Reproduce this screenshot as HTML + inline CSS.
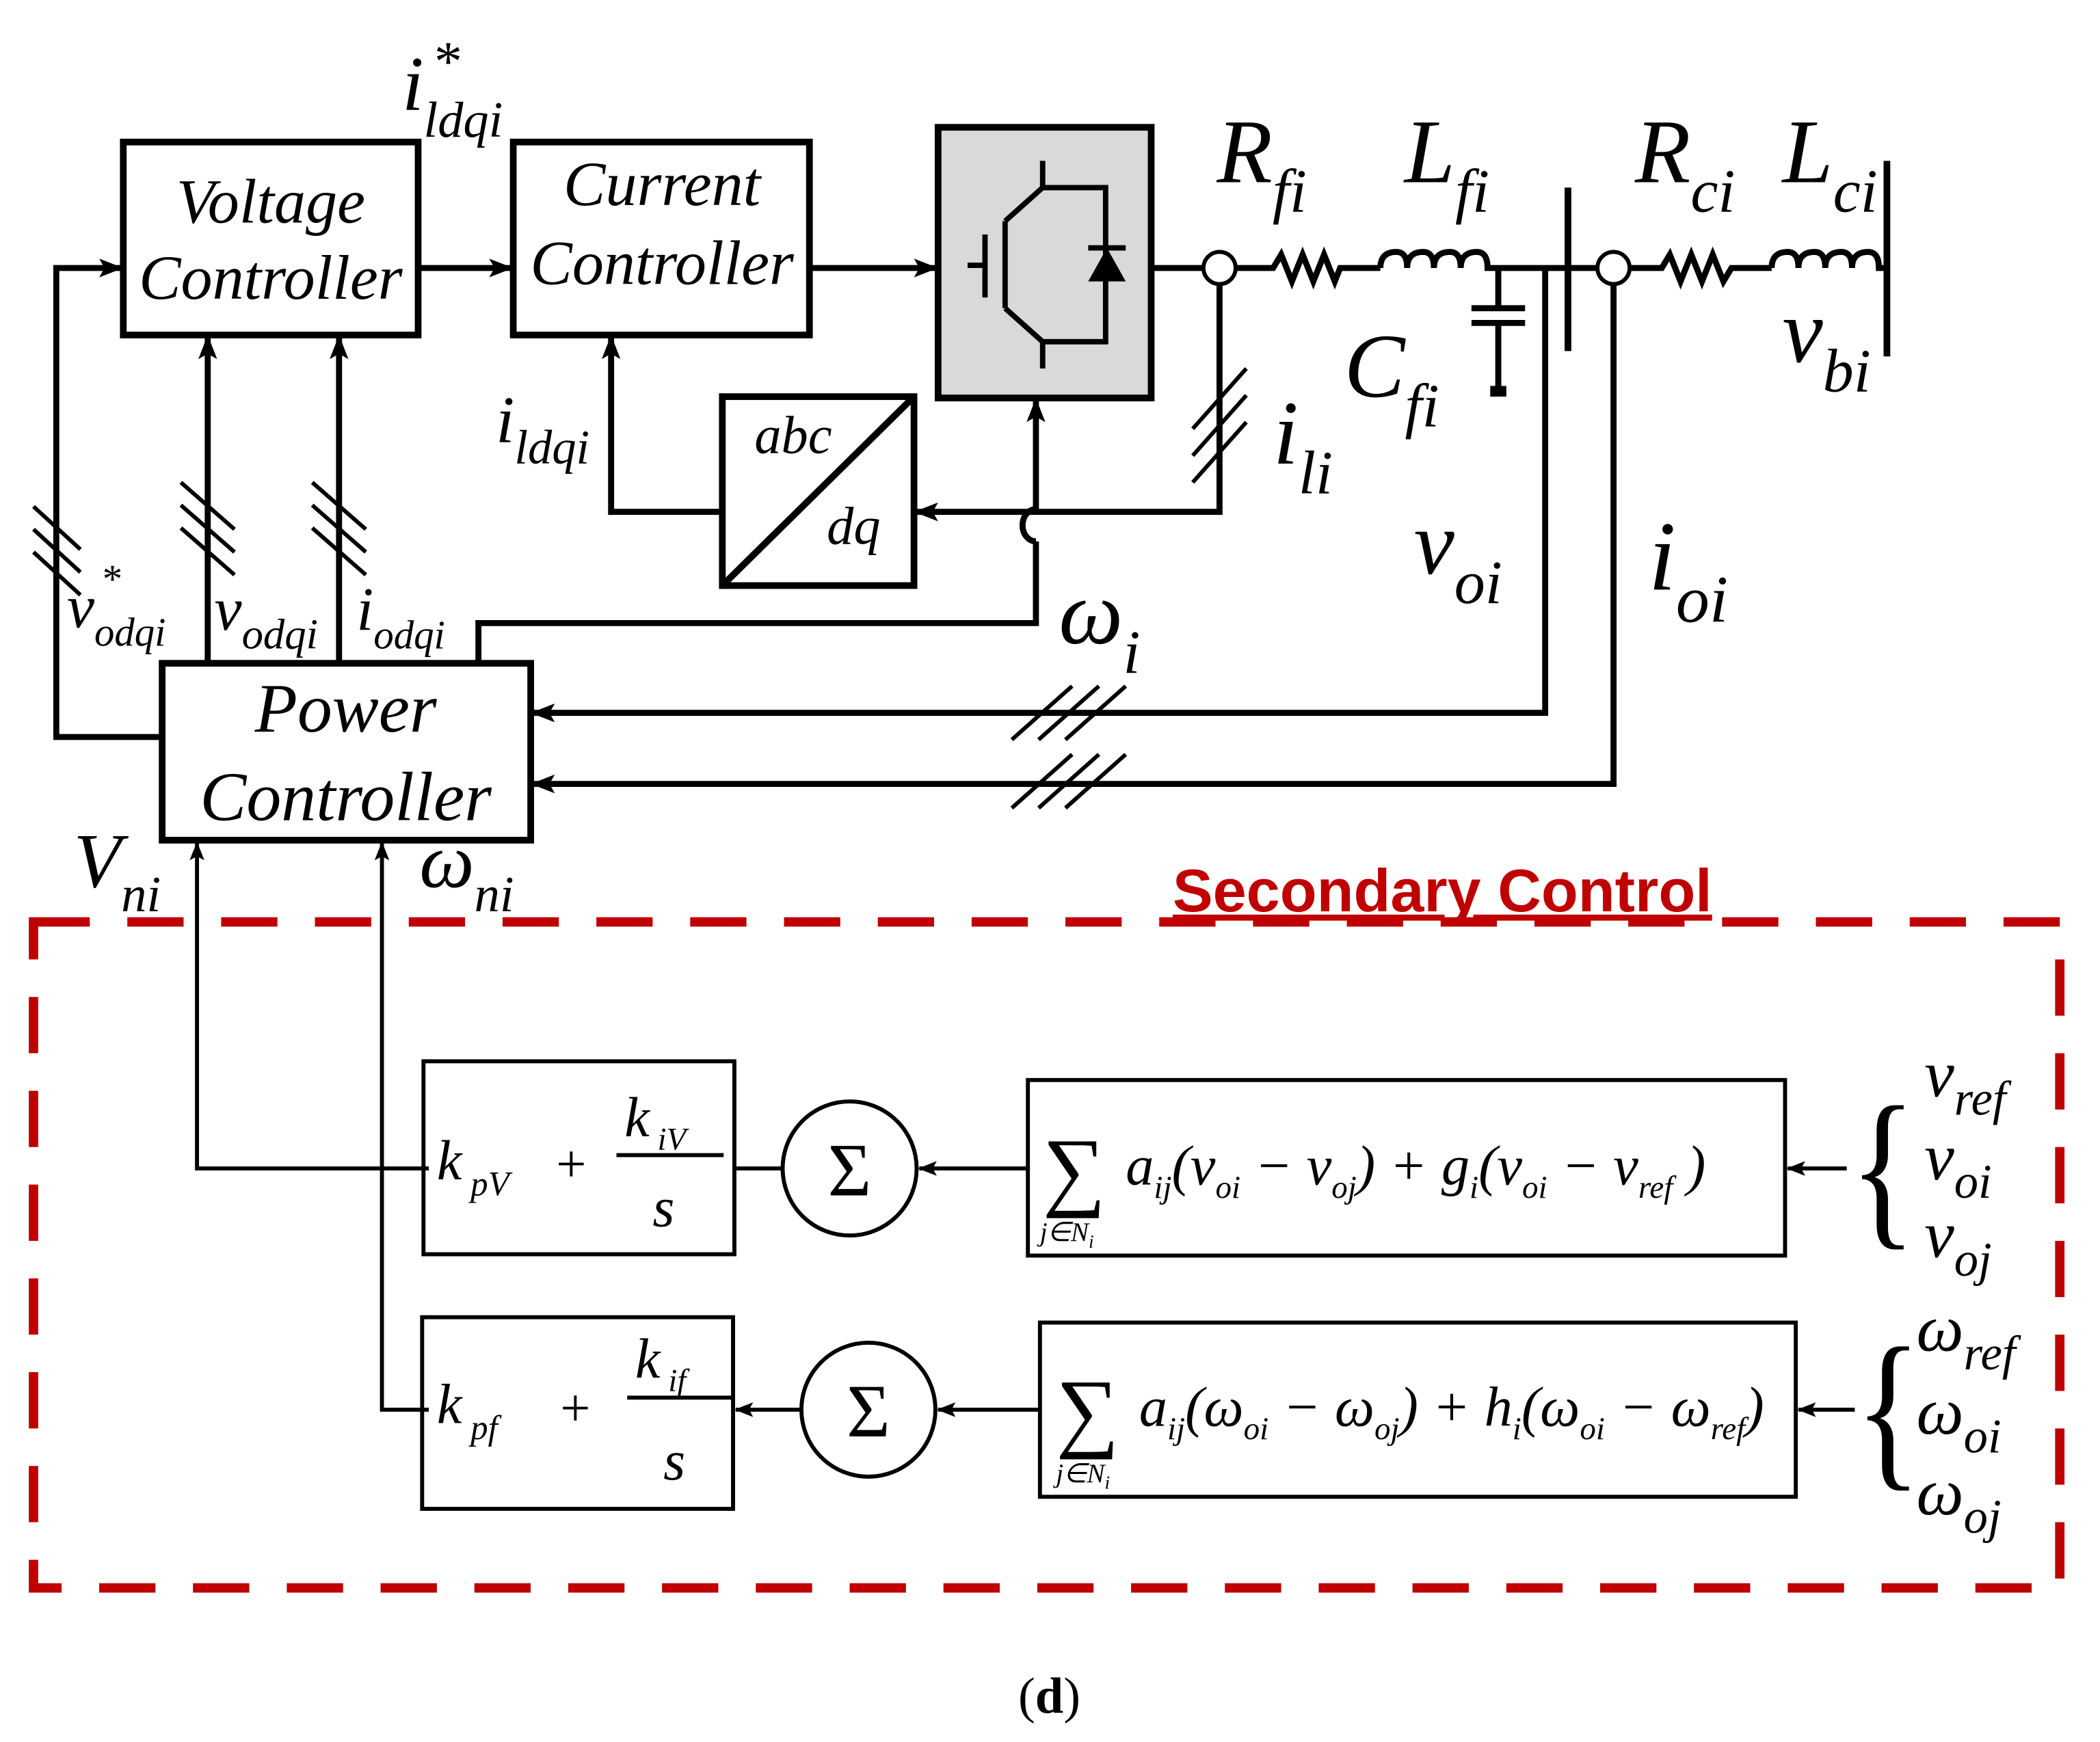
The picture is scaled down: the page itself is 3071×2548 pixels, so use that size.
<!DOCTYPE html>
<html><head><meta charset="utf-8"><style>
html,body{margin:0;padding:0;background:#fff;}
svg{display:block;}
.m{font-family:"Liberation Serif",serif;font-style:italic;fill:#000;}
.n{font-family:"Liberation Serif",serif;fill:#000;}
</style></head><body>
<svg width="3071" height="2548" viewBox="0 0 1567 1300" preserveAspectRatio="none" xmlns="http://www.w3.org/2000/svg">
<defs>
<marker id="a" markerWidth="18" markerHeight="14" refX="16" refY="7" orient="auto" markerUnits="userSpaceOnUse" viewBox="0 0 18 14"><path d="M0,0 L18,7 L0,14 L4,7 z" fill="#000"/></marker>
<marker id="b" markerWidth="14" markerHeight="11" refX="13" refY="5.5" orient="auto" markerUnits="userSpaceOnUse" viewBox="0 0 14 11"><path d="M0,0 L14,5.5 L0,11 L3,5.5 z" fill="#000"/></marker>
</defs>
<rect width="1567" height="1300" fill="#fff"/>
<g stroke="#000" stroke-width="5" fill="none">
<rect x="92" y="106" width="220" height="144"/>
<rect x="383" y="106" width="221" height="144"/>
<rect x="700" y="95" width="159" height="202" fill="#d9d9d9"/>
<rect x="539" y="296" width="143" height="141"/>
<line x1="539" y1="437" x2="682" y2="296"/>
<rect x="121" y="495" width="275" height="132"/>
</g>
<g stroke="#000" stroke-width="4" fill="none">
<line x1="735" y1="175" x2="735" y2="222"/>
<line x1="722" y1="198" x2="735" y2="198"/>
<line x1="750" y1="165" x2="750" y2="230"/>
<polyline points="778,120 778,140 750,165"/>
<polyline points="750,230 778,255 778,275"/>
<polyline points="778,140 825,140 825,255 778,255"/>
<line x1="812" y1="185" x2="840" y2="185"/>
</g>
<path d="M812,210 L840,210 L826,185 z" fill="#000"/>
<g stroke="#000" stroke-width="4.5" fill="none">
<polyline points="121,550 42,550 42,200 90,200" marker-end="url(#a)"/>
<line x1="312" y1="200" x2="381" y2="200" marker-end="url(#a)"/>
<line x1="604" y1="200" x2="698" y2="200" marker-end="url(#a)"/>
<line x1="859" y1="200" x2="898" y2="200"/>
<polyline points="922,200 950,200 956,190 964,210 972,190 980,210 988,190 996,210 1000,200 1030,200"/>
<path d="M1030,200 q0,-12 12,-12 q8,0 8,12 q0,-12 12,-12 q8,0 8,12 q0,-12 12,-12 q8,0 8,12 q0,-12 12,-12 q8,0 8,12 L1170,200"/>
<line x1="1118" y1="200" x2="1118" y2="230"/>
<line x1="1098" y1="230" x2="1138" y2="230"/>
<line x1="1098" y1="241" x2="1138" y2="241"/>
<line x1="1118" y1="241" x2="1118" y2="290"/>
<line x1="1170" y1="200" x2="1192" y2="200"/>
<polyline points="1216,200 1240,200 1246,190 1254,210 1262,190 1270,210 1278,190 1286,210 1292,200 1322,200"/>
<path d="M1322,200 q0,-12 12,-12 q8,0 8,12 q0,-12 12,-12 q8,0 8,12 q0,-12 12,-12 q8,0 8,12 q0,-12 12,-12 q8,0 8,12 L1408,200"/>
<polyline points="910,212 910,382 684,382" marker-end="url(#a)"/>
<polyline points="539,382 456,382 456,252" marker-end="url(#a)"/>
<polyline points="357,495 357,465 773,465 773,404"/>
<path d="M773,404 a10,12 0 0 1 0,-24"/>
<line x1="773" y1="380" x2="773" y2="299" marker-end="url(#a)"/>
<polyline points="1153,200 1153,532 398,532" marker-end="url(#a)"/>
<polyline points="1204,212 1204,585 398,585" marker-end="url(#a)"/>
<line x1="155" y1="495" x2="155" y2="252" marker-end="url(#a)"/>
<line x1="253" y1="495" x2="253" y2="252" marker-end="url(#a)"/>
</g>
<g stroke="#000" stroke-width="5">
<line x1="1170" y1="140" x2="1170" y2="262"/>
<line x1="1408" y1="120" x2="1408" y2="266"/>
</g>
<rect x="1112" y="288" width="12" height="8" fill="#000"/>
<circle cx="910" cy="200" r="12" fill="#fff" stroke="#000" stroke-width="3"/>
<circle cx="1204" cy="200" r="12" fill="#fff" stroke="#000" stroke-width="3"/>
<g stroke="#000" stroke-width="3">
<line x1="890" y1="320" x2="930" y2="275"/><line x1="890" y1="340" x2="930" y2="295"/><line x1="890" y1="360" x2="930" y2="315"/>
<line x1="25" y1="378" x2="60" y2="410"/><line x1="25" y1="395" x2="60" y2="427"/><line x1="25" y1="412" x2="60" y2="444"/>
<line x1="135" y1="360" x2="175" y2="395"/><line x1="135" y1="377" x2="175" y2="412"/><line x1="135" y1="394" x2="175" y2="429"/>
<line x1="233" y1="360" x2="273" y2="395"/><line x1="233" y1="377" x2="273" y2="412"/><line x1="233" y1="394" x2="273" y2="429"/>
<line x1="755" y1="552" x2="800" y2="512"/><line x1="775" y1="552" x2="820" y2="512"/><line x1="795" y1="552" x2="840" y2="512"/>
<line x1="755" y1="603" x2="800" y2="563"/><line x1="775" y1="603" x2="820" y2="563"/><line x1="795" y1="603" x2="840" y2="563"/>
</g>
<text class="m" x="202" y="166" font-size="47" text-anchor="middle">Voltage</text>
<text class="m" x="202" y="223" font-size="47" text-anchor="middle">Controller</text>
<text class="m" x="494" y="153" font-size="47" text-anchor="middle">Current</text>
<text class="m" x="494" y="212" font-size="47" text-anchor="middle">Controller</text>
<text class="m" x="258" y="546" font-size="52" text-anchor="middle">Power</text>
<text class="m" x="258" y="612" font-size="52" text-anchor="middle">Controller</text>
<text class="m" x="563" y="338" font-size="40">abc</text>
<text class="m" x="617" y="406" font-size="40">dq</text>
<text class="m" x="300" y="82" font-size="58">i<tspan font-size="38" dy="20">ldqi</tspan></text>
<text class="m" x="322" y="60" font-size="42">*</text>
<text class="m" x="370" y="330" font-size="50">i<tspan font-size="36" dy="16">ldqi</tspan></text>
<text class="m" x="908" y="136" font-size="68">R<tspan font-size="46" dy="22">fi</tspan></text>
<text class="m" x="1048" y="136" font-size="68">L<tspan font-size="46" dy="22">fi</tspan></text>
<text class="m" x="1003" y="296" font-size="68">C<tspan font-size="46" dy="22">fi</tspan></text>
<text class="m" x="1220" y="136" font-size="68">R<tspan font-size="46" dy="22">ci</tspan></text>
<text class="m" x="1330" y="136" font-size="68">L<tspan font-size="46" dy="22">ci</tspan></text>
<text class="m" x="1330" y="270" font-size="68">v<tspan font-size="46" dy="22">bi</tspan></text>
<text class="m" x="950" y="346" font-size="68">i<tspan font-size="46" dy="22">li</tspan></text>
<text class="m" x="1055" y="428" font-size="68">v<tspan font-size="46" dy="22">oi</tspan></text>
<text class="m" x="1230" y="440" font-size="74">i<tspan font-size="50" dy="24">oi</tspan></text>
<text class="m" x="790" y="480" font-size="68">ω<tspan font-size="46" dy="22">i</tspan></text>
<text class="m" x="50" y="468" font-size="46">v<tspan font-size="30" dy="14">odqi</tspan></text>
<text class="m" x="75" y="442" font-size="30">*</text>
<text class="m" x="160" y="470" font-size="46">v<tspan font-size="32" dy="14">odqi</tspan></text>
<text class="m" x="266" y="470" font-size="46">i<tspan font-size="30" dy="14">odqi</tspan></text>
<text class="m" x="55" y="662" font-size="58">V<tspan font-size="38" dy="18">ni</tspan></text>
<text class="m" x="313" y="662" font-size="58">ω<tspan font-size="38" dy="18">ni</tspan></text>
<rect x="25" y="688" width="1512" height="497" fill="none" stroke="#c00000" stroke-width="7" stroke-dasharray="42,28"/>
<text x="875" y="680" font-family="'Liberation Sans',sans-serif" font-weight="bold" font-size="45" fill="#c00000" text-decoration="underline">Secondary Control</text>
<g stroke="#000" stroke-width="3" fill="none">
<rect x="316" y="792" width="232" height="144"/>
<rect x="767" y="806" width="565" height="131"/>
<rect x="315" y="983" width="232" height="143"/>
<rect x="776" y="987" width="564" height="130"/>
<circle cx="634" cy="872" r="50"/>
<circle cx="648" cy="1052" r="50"/>
<polyline points="584,872 548,872"/>
<polyline points="320,872 147,872 147,629" marker-end="url(#b)"/>
<polyline points="320,1052 285,1052 285,629" marker-end="url(#b)"/>
<line x1="460" y1="862" x2="540" y2="862"/>
<line x1="468" y1="1043" x2="547" y2="1043"/>
<line x1="598" y1="1052" x2="549" y2="1052" marker-end="url(#b)"/>
<line x1="767" y1="872" x2="686" y2="872" marker-end="url(#b)"/>
<line x1="776" y1="1052" x2="700" y2="1052" marker-end="url(#b)"/>
<line x1="1378" y1="872" x2="1334" y2="872" marker-end="url(#b)"/>
<line x1="1384" y1="1052" x2="1342" y2="1052" marker-end="url(#b)"/>
</g>
<text class="n" x="634" y="892" font-size="56" text-anchor="middle">Σ</text>
<text class="n" x="648" y="1072" font-size="56" text-anchor="middle">Σ</text>
<text class="m" x="326" y="880" font-size="42">k<tspan font-size="26" dy="12"> pV</tspan></text>
<text class="n" x="415" y="882" font-size="40">+</text>
<text class="m" x="466" y="848" font-size="42">k<tspan font-size="24" dy="10"> iV</tspan></text>
<text class="m" x="487" y="915" font-size="42">s</text>
<text class="m" x="326" y="1062" font-size="42">k<tspan font-size="26" dy="12"> pf</tspan></text>
<text class="n" x="418" y="1064" font-size="40">+</text>
<text class="m" x="474" y="1028" font-size="42">k<tspan font-size="24" dy="10"> if</tspan></text>
<text class="m" x="495" y="1104" font-size="42">s</text>
<text class="n" x="778" y="895" font-size="66">∑</text>
<text class="m" x="776" y="926" font-size="20">j∈N<tspan font-size="14" dy="5">i</tspan></text>
<text class="m" x="840" y="884" font-size="42">a<tspan font-size="24" dy="10">ij</tspan><tspan dy="-10">(v</tspan><tspan font-size="24" dy="10">oi</tspan><tspan dy="-10"> − v</tspan><tspan font-size="24" dy="10">oj</tspan><tspan dy="-10">) + g</tspan><tspan font-size="24" dy="10">i</tspan><tspan dy="-10">(v</tspan><tspan font-size="24" dy="10">oi</tspan><tspan dy="-10"> − v</tspan><tspan font-size="24" dy="10">ref</tspan><tspan dy="-10"> )</tspan></text>
<text class="n" x="788" y="1075" font-size="66">∑</text>
<text class="m" x="788" y="1106" font-size="20">j∈N<tspan font-size="14" dy="5">i</tspan></text>
<text class="m" x="850" y="1064" font-size="42">a<tspan font-size="24" dy="10">ij</tspan><tspan dy="-10">(ω</tspan><tspan font-size="24" dy="10">oi</tspan><tspan dy="-10"> − ω</tspan><tspan font-size="24" dy="10">oj</tspan><tspan dy="-10">) + h</tspan><tspan font-size="24" dy="10">i</tspan><tspan dy="-10">(ω</tspan><tspan font-size="24" dy="10">oi</tspan><tspan dy="-10"> − ω</tspan><tspan font-size="24" dy="10">ref</tspan><tspan dy="-10">)</tspan></text>
<text class="n" x="1380" y="915" font-size="130" transform="scale(0.8,1) translate(345,0)">{</text>
<text class="n" x="1384" y="1095" font-size="130" transform="scale(0.8,1) translate(346,0)">{</text>
<text class="m" x="1436" y="818" font-size="50">v<tspan font-size="36" dy="14">ref</tspan></text>
<text class="m" x="1436" y="880" font-size="50">v<tspan font-size="36" dy="14">oi</tspan></text>
<text class="m" x="1436" y="938" font-size="50">v<tspan font-size="36" dy="14">oj</tspan></text>
<text class="m" x="1430" y="1008" font-size="50">ω<tspan font-size="36" dy="14">ref</tspan></text>
<text class="m" x="1430" y="1070" font-size="50">ω<tspan font-size="36" dy="14">oi</tspan></text>
<text class="m" x="1430" y="1130" font-size="50">ω<tspan font-size="36" dy="14">oj</tspan></text>
<text class="n" x="783" y="1278" font-size="38" text-anchor="middle">(<tspan font-weight="bold">d</tspan>)</text>
</svg>
</body></html>
